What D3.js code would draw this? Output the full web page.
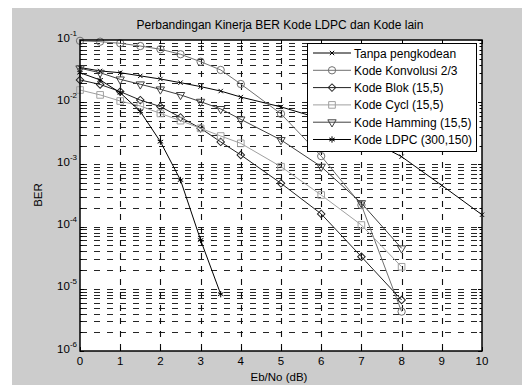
<!DOCTYPE html>
<html>
<head>
<meta charset="utf-8">
<script src="https://cdn.jsdelivr.net/npm/d3@7"></script>
<style>
  body { margin: 0; background: #fff; }
  text { font-family: "Liberation Sans", Arial, sans-serif; }
</style>
</head>
<body>
<svg></svg>
<script>
// Data
const ebnoUncoded = [0, 0.5, 1, 1.5, 2, 2.5, 3, 3.5, 4, 5, 6, 7, 8, 9, 10];
const ebnoCoded = [0, 0.5, 1, 1.5, 2, 2.5, 3, 3.5, 4, 5, 6, 7, 8];
const ebnoLdpc = [0, 0.5, 1, 1.5, 2, 2.5, 3, 3.5];

const berTanpa = [0.0361, 0.0318, 0.0298, 0.0265, 0.0236, 0.0206, 0.0178, 0.0151, 0.0121, 0.0084, 0.0054, 0.0029, 0.00133, 0.00046, 0.000155];
const berKonvolusi = [0.097, 0.094, 0.0885, 0.08, 0.071, 0.059, 0.0448, 0.033, 0.0196, 0.0065, 0.00136, 0.000222, 0.0000043];
const berBlok = [0.0228, 0.0193, 0.0148, 0.0108, 0.0085, 0.0057, 0.0038, 0.0023, 0.00142, 0.000496, 0.00016, 0.0000328, 0.0000066];
const berCycl = [0.0157, 0.0131, 0.01045, 0.0087, 0.0066, 0.00505, 0.0038, 0.00286, 0.00218, 0.000918, 0.000322, 0.000106, 0.0000226];
const berHamming = [0.0351, 0.0298, 0.0233, 0.0194, 0.0161, 0.0131, 0.0102, 0.0078, 0.0053, 0.00247, 0.00092, 0.000239, 0.0000448];
const berLdpc = [0.0298, 0.0228, 0.0142, 0.0071, 0.00232, 0.00056, 0.000061, 0.0000082];

const seriesNames = ["Tanpa pengkodean", "Kode Konvolusi 2/3", "Kode Blok (15,5)", "Kode Cycl (15,5)", "Kode Hamming (15,5)", "Kode LDPC (300,150)"];
const xTicks = [0, 1, 2, 3, 4, 5, 6, 7, 8, 9, 10];
const yDecades = [-6, -5, -4, -3, -2, -1];

const titleText = "Perbandingan Kinerja BER Kode LDPC dan Kode lain";
const xLabel = "Eb/No (dB)";
const yLabel = "BER";

let width = 522,
  height = 387;

let svg = d3.select("svg").attr("width", width).attr("height", height);

let pLeft = 80, pRight = 482, pTop = 40, pBottom = 351;

let x = d3.scaleLinear().domain([0, 10]).range([pLeft, pRight]);
let y = d3.scaleLog().domain([1e-6, 1e-1]).range([pBottom, pTop]);

const series = [
  { name: seriesNames[0], xs: ebnoUncoded, ys: berTanpa, color: "#000", marker: "x" },
  { name: seriesNames[1], xs: ebnoCoded, ys: berKonvolusi, color: "#707070", marker: "o" },
  { name: seriesNames[2], xs: ebnoCoded, ys: berBlok, color: "#222", marker: "d" },
  { name: seriesNames[3], xs: ebnoCoded, ys: berCycl, color: "#a0a0a0", marker: "s" },
  { name: seriesNames[4], xs: ebnoCoded, ys: berHamming, color: "#404040", marker: "v" },
  { name: seriesNames[5], xs: ebnoLdpc, ys: berLdpc, color: "#000", marker: "*" },
];

// figure background
svg.append("rect").attr("x", 12).attr("y", 8).attr("width", width - 12).attr("height", 377).attr("fill", "#cccccc");
svg.append("rect").attr("x", pLeft).attr("y", pTop).attr("width", pRight - pLeft).attr("height", pBottom - pTop).attr("fill", "#fff");

// grid (major + log minor), dashed like the matlab export
let minorVals = [];
yDecades.slice(0, -1).forEach((d) => {
  for (let k = 1; k <= 9; k++) {
    if (k === 1 && d === -6) continue;
    minorVals.push(k * Math.pow(10, d));
  }
});

let gridG = svg.append("g").attr("class", "grid");
minorVals.forEach((v) => {
  let py = Math.round(y(v)) + 0.5;
  gridG.append("line")
    .attr("x1", pLeft + 1).attr("x2", pRight)
    .attr("y1", py).attr("y2", py)
    .style("stroke", "#262626")
    .style("stroke-width", 1.1)
    .style("stroke-dasharray", "6 7");
});
xTicks.slice(1, -1).forEach((t) => {
  let px = Math.round(x(t)) + 0.5;
  gridG.append("line")
    .attr("x1", px).attr("x2", px)
    .attr("y1", pBottom - 1).attr("y2", pTop)
    .style("stroke", "#111")
    .style("stroke-width", 1.1)
    .style("stroke-dasharray", "6 7");
});

// ticks
let ticks = svg.append("g").attr("stroke", "#000").attr("stroke-width", 1);
xTicks.forEach((t) => {
  let px = Math.round(x(t)) + 0.5;
  ticks.append("line").attr("x1", px).attr("x2", px).attr("y1", pBottom).attr("y2", pBottom - 4);
  ticks.append("line").attr("x1", px).attr("x2", px).attr("y1", pTop).attr("y2", pTop + 4);
});
minorVals.concat([1e-6, 1e-1]).forEach((v) => {
  let py = Math.round(y(v)) + 0.5;
  let major = Math.abs(Math.log10(v) - Math.round(Math.log10(v))) < 1e-9;
  let len = major ? 4 : 2.5;
  ticks.append("line").attr("x1", pLeft).attr("x2", pLeft + len).attr("y1", py).attr("y2", py);
  ticks.append("line").attr("x1", pRight).attr("x2", pRight - len).attr("y1", py).attr("y2", py);
});

// tick labels
svg.append("g")
  .selectAll("text")
  .data(xTicks)
  .enter()
  .append("text")
  .attr("x", (d) => x(d))
  .attr("y", 365)
  .attr("text-anchor", "middle")
  .attr("font-size", 11.5)
  .text((d) => d);

let yl = svg.append("g")
  .selectAll("text")
  .data(yDecades)
  .enter()
  .append("text")
  .attr("x", 77)
  .attr("y", (d) => y(Math.pow(10, d)) + 1.5)
  .attr("text-anchor", "end")
  .attr("font-size", 11.5);
yl.append("tspan").text("10");
yl.append("tspan").attr("dy", -6).attr("font-size", 8).text((d) => d);

// lines and markers
let line = d3.line().x((d) => x(d[0])).y((d) => y(d[1]));

function markerPath(type) {
  switch (type) {
    case "o": return d3.symbol().type(d3.symbolCircle).size(42)();
    case "s": return d3.symbol().type(d3.symbolSquare).size(44)();
    case "d": return d3.symbol().type(d3.symbolSquare).size(28)();
    case "v": return d3.symbol().type(d3.symbolTriangle).size(30)();
    case "x": return d3.symbol().type(d3.symbolTimes).size(14)();
    case "*": return d3.symbol().type(d3.symbolAsterisk).size(28)();
  }
}
function markerRot(type) {
  if (type === "d") return 45;
  if (type === "v") return 180;
  return 0;
}

let plot = svg.append("g");
series.forEach((s) => {
  let pts = s.xs.map((v, i) => [v, s.ys[i]]);
  let g = plot.append("g");
  g.append("path")
    .attr("d", line(pts))
    .attr("fill", "none")
    .attr("stroke", s.color)
    .attr("stroke-width", 1);
  g.selectAll("path.m")
    .data(pts)
    .enter()
    .append("path")
    .attr("class", "m")
    .attr("d", markerPath(s.marker))
    .attr("transform", (d) => `translate(${x(d[0])},${y(d[1])}) rotate(${markerRot(s.marker)})`)
    .attr("fill", "none")
    .attr("stroke", s.color)
    .attr("stroke-width", 1);
});

// axes box
svg.append("rect")
  .attr("x", pLeft).attr("y", pTop)
  .attr("width", pRight - pLeft).attr("height", pBottom - pTop)
  .attr("fill", "none").attr("stroke", "#000").attr("stroke-width", 1.5);

// legend
let lg = svg.append("g");
lg.append("rect")
  .attr("x", 307.5).attr("y", 43.5).attr("width", 169).attr("height", 108)
  .attr("fill", "#fff").attr("stroke", "#000").attr("stroke-width", 1);
series.forEach((s, i) => {
  let ly = 53 + i * 17.3;
  lg.append("line").attr("x1", 313).attr("x2", 351).attr("y1", ly).attr("y2", ly)
    .attr("stroke", s.color).attr("stroke-width", 1);
  lg.append("path").attr("d", markerPath(s.marker))
    .attr("transform", `translate(332,${ly}) rotate(${markerRot(s.marker)})`)
    .attr("fill", "none").attr("stroke", s.color);
  lg.append("text").attr("x", 354).attr("y", ly + 4.5).attr("font-size", 12).text(s.name);
});

// title and labels
svg.append("text").attr("x", 280).attr("y", 29).attr("text-anchor", "middle").attr("font-size", 12).text(titleText);
svg.append("text").attr("x", 279).attr("y", 381).attr("text-anchor", "middle").attr("font-size", 11.5).text(xLabel);
svg.append("text")
  .attr("transform", "translate(42,195) rotate(-90)")
  .attr("text-anchor", "middle")
  .attr("font-size", 11.5)
  .text(yLabel);
</script>
</body>
</html>
